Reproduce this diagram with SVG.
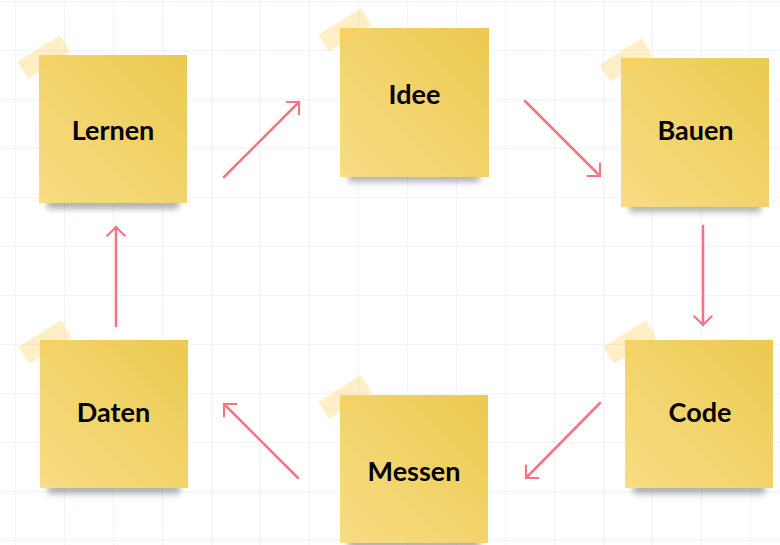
<svg xmlns="http://www.w3.org/2000/svg" width="780" height="545" viewBox="0 0 780 545">
  <defs>
    <pattern id="grid" x="15" y="1" width="49" height="49" patternUnits="userSpaceOnUse">
      <path d="M0.5 0 V49 M0 0.5 H49" stroke="#eef6fb" stroke-width="1" fill="none"/>
    </pattern>
    <linearGradient id="paper" x1="0" y1="1" x2="1" y2="0">
      <stop offset="0" stop-color="#f9dc84"/>
      <stop offset="1" stop-color="#eaca50"/>
    </linearGradient>
    <filter id="blur" x="-20%" y="-100%" width="140%" height="300%">
      <feGaussianBlur stdDeviation="3"/>
    </filter>
    <marker id="head" markerWidth="20" markerHeight="20" viewBox="-12 -12 24 24" refX="0" refY="0" orient="auto" markerUnits="userSpaceOnUse">
      <path d="M-10.5 -10.5 L0 0 L-10.5 10.5" fill="none" stroke="#f47481" stroke-width="2.5" stroke-linecap="round" stroke-linejoin="round"/>
    </marker>
    <style>
      .shadow { fill: #000; opacity: 0.3; filter: url(#blur); }
      .paper { fill: url(#paper); }
      .tape { fill: #ffcf5c; opacity: 0.35; }
      .label { font-family: Lato, "Liberation Sans", sans-serif; font-weight: 700; font-size: 27px; fill: #000; text-anchor: middle; }
      .conn { fill: none; stroke: #f47481; stroke-width: 2.5; stroke-linecap: round; marker-end: url(#head); }
    </style>
  </defs>
  <rect width="780" height="545" fill="#ffffff"/>
  <rect width="780" height="545" fill="url(#grid)"/>

  <g id="connectors">
    <line class="conn" x1="224" y1="177" x2="299" y2="102"/>
    <line class="conn" x1="525" y1="101" x2="600" y2="176"/>
    <line class="conn" x1="703" y1="226" x2="703" y2="325"/>
    <line class="conn" x1="600" y1="403" x2="526" y2="478"/>
    <line class="conn" x1="298" y1="478" x2="224" y2="404"/>
    <line class="conn" x1="116" y1="326" x2="116" y2="227"/>
  </g>

  <g id="lernen" transform="translate(39,55)">
    <rect class="shadow" x="8" y="140" width="132" height="14"/>
    <rect class="paper" width="148" height="148"/>
    <rect class="tape" x="-20" y="-8" width="50" height="20" transform="rotate(-32 5 2)"/>
    <text class="label" x="74" y="85">Lernen</text>
  </g>
  <g id="idee" transform="translate(340,28)">
    <rect class="shadow" x="8" y="140" width="132" height="14"/>
    <rect class="paper" width="149" height="149"/>
    <rect class="tape" x="-20" y="-8" width="50" height="20" transform="rotate(-32 5 2)"/>
    <text class="label" x="74.5" y="76">Idee</text>
  </g>
  <g id="bauen" transform="translate(621,58)">
    <rect class="shadow" x="8" y="140" width="132" height="14"/>
    <rect class="paper" width="148" height="149"/>
    <rect class="tape" x="-20" y="-8" width="50" height="20" transform="rotate(-32 5 2)"/>
    <text class="label" x="74.5" y="82">Bauen</text>
  </g>
  <g id="code" transform="translate(625,340)">
    <rect class="shadow" x="8" y="140" width="132" height="14"/>
    <rect class="paper" width="148" height="148"/>
    <rect class="tape" x="-20" y="-8" width="50" height="20" transform="rotate(-32 5 2)"/>
    <text class="label" x="75" y="82">Code</text>
  </g>
  <g id="messen" transform="translate(340,395)">
    <rect class="shadow" x="8" y="140" width="132" height="14"/>
    <rect class="paper" width="148" height="148"/>
    <rect class="tape" x="-20" y="-8" width="50" height="20" transform="rotate(-32 5 2)"/>
    <text class="label" x="74" y="86">Messen</text>
  </g>
  <g id="daten" transform="translate(40,340)">
    <rect class="shadow" x="8" y="140" width="132" height="14"/>
    <rect class="paper" width="148" height="148"/>
    <rect class="tape" x="-20" y="-8" width="50" height="20" transform="rotate(-32 5 2)"/>
    <text class="label" x="73.5" y="82">Daten</text>
  </g>
</svg>
